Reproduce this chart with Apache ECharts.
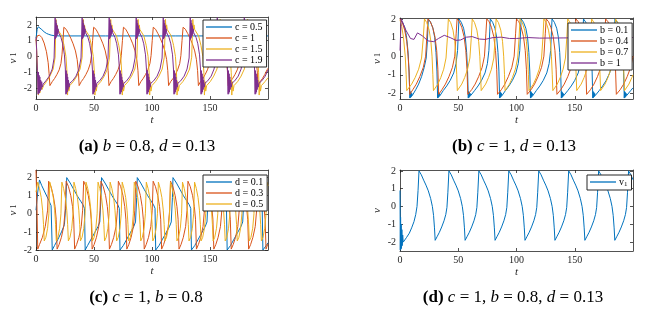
<!DOCTYPE html>
<html><head><meta charset="utf-8">
<script src="https://cdn.jsdelivr.net/npm/echarts@6/dist/echarts.min.js"></script>
<style>html,body{margin:0;padding:0;background:#fff}#c{width:645px;height:313px}</style>
</head><body><div id="c"></div>
<script>
// ---------- tick labels ----------
const xTicks = [0, 50, 100, 150];
const yTicks = [-2, -1, 0, 1, 2];

// ---------- panel (a): b = 0.8, d = 0.13 ----------
const a_names = ['c = 0.5', 'c = 1', 'c = 1.5', 'c = 1.9'];
const a_c05 = [[0,1.15],[1,1.72],[2,1.88],[3.5,1.82],[5,1.7],[7,1.56],[9,1.46],[11,1.4],[13,1.35],[16,1.31],[20,1.3],[60,1.3],[120,1.3],[200,1.3]];
const a_c1 = [[0,1.0],[1,1.3],[3,1.35],[5,1.2],[7,0.85],[9,0.3],[10.5,-0.4],[11.3,-1.1],[12,-1.85],[14,-1.6],[16,-1.4],[18,-1.15],[20,-0.85],[21.5,-0.45],[22.4,0.1],[23.3,1.0],
[24,1.85],[26,1.72],[28,1.45],[30,1.15],[32,0.8],[34,0.35],[35.5,-0.2],[36.5,-0.9],[37.2,-1.85],[39,-1.6],[41,-1.4],[43,-1.15],[45,-0.85],[46.8,-0.45],[47.8,0.05],[48.8,1.0],
[49.7,1.85],[51.7,1.72],[53.7,1.45],[55.7,1.15],[57.7,0.8],[59.7,0.35],[61.2,-0.2],[62.2,-0.9],[62.9,-1.85],[64.7,-1.6],[66.7,-1.4],[68.7,-1.15],[70.7,-0.85],[72.5,-0.45],[73.5,0.05],[74.5,1.0],
[75.4,1.85],[77.4,1.72],[79.4,1.45],[81.4,1.15],[83.4,0.8],[85.4,0.35],[86.9,-0.2],[87.9,-0.9],[88.6,-1.85],[90.4,-1.6],[92.4,-1.4],[94.4,-1.15],[96.4,-0.85],[98.2,-0.45],[99.2,0.05],[100.2,1.0],
[101.1,1.85],[103.1,1.72],[105.1,1.45],[107.1,1.15],[109.1,0.8],[111.1,0.35],[112.6,-0.2],[113.6,-0.9],[114.3,-1.85],[116.1,-1.6],[118.1,-1.4],[120.1,-1.15],[122.1,-0.85],[123.9,-0.45],[124.9,0.05],[125.9,1.0],
[126.8,1.85],[128.8,1.72],[130.8,1.45],[132.8,1.15],[134.8,0.8],[136.8,0.35],[138.3,-0.2],[139.3,-0.9],[140,-1.85],[141.8,-1.6],[143.8,-1.4],[145.8,-1.15],[147.8,-0.85],[149.6,-0.45],[150.6,0.05],[151.6,1.0],
[152.5,1.85],[154.5,1.72],[156.5,1.45],[158.5,1.15],[160.5,0.8],[162.5,0.35],[164,-0.2],[165,-0.9],[165.7,-1.85],[167.5,-1.6],[169.5,-1.4],[171.5,-1.15],[173.5,-0.85],[175.3,-0.45],[176.3,0.05],[177.3,1.0],
[178.2,1.85],[180.2,1.72],[182.2,1.45],[184.2,1.15],[186.2,0.8],[188.2,0.35],[189.7,-0.2],[190.7,-0.9],[191.4,-1.85],[193.2,-1.6],[195.2,-1.4],[197.2,-1.15],[199.2,-0.85],[200,-0.75]];
const a_c15 = [[0,1.1],[0.7,0.2],[1.4,-1.0],[2.1,-2.45],[2.7,-1.6],[3.4,-2.3],[4.2,-1.8],[5.2,-2.1],[6.5,-1.85],[9,-1.6],[12,-1.25],[14.8,-0.8],[16.5,-0.05],
[17.2,2.35],[17.7,1.6],[18.2,2.0],[18.8,1.7],[19.7,1.65],[22.2,1.3],[24.2,0.7],[25.8,0],[26.7,-1.0],[27.2,-2.45],[27.7,-1.6],[28.3,-2.2],[29.1,-1.85],[32.2,-1.6],[35.2,-1.25],[38,-0.8],[39.8,-0.05],
[40.8,2.35],[41.3,1.6],[41.8,2.0],[42.4,1.7],[43.3,1.65],[45.8,1.3],[47.8,0.7],[49.4,0],[50.3,-1.0],[50.8,-2.45],[51.3,-1.6],[51.9,-2.2],[52.7,-1.85],[55.8,-1.6],[58.8,-1.25],[61.6,-0.8],[63.4,-0.05],
[64.4,2.35],[64.9,1.6],[65.4,2.0],[66,1.7],[66.9,1.65],[69.4,1.3],[71.4,0.7],[73,0],[73.9,-1.0],[74.4,-2.45],[74.9,-1.6],[75.5,-2.2],[76.3,-1.85],[79.4,-1.6],[82.4,-1.25],[85.2,-0.8],[87,-0.05],
[88,2.35],[88.5,1.6],[89,2.0],[89.6,1.7],[90.5,1.65],[93,1.3],[95,0.7],[96.6,0],[97.5,-1.0],[98,-2.45],[98.5,-1.6],[99.1,-2.2],[99.9,-1.85],[103,-1.6],[106,-1.25],[108.8,-0.8],[110.6,-0.05],
[111.6,2.35],[112.1,1.6],[112.6,2.0],[113.2,1.7],[114.1,1.65],[116.6,1.3],[118.6,0.7],[120.2,0],[121.1,-1.0],[121.6,-2.45],[122.1,-1.6],[122.7,-2.2],[123.5,-1.85],[126.6,-1.6],[129.6,-1.25],[132.4,-0.8],[134.2,-0.05],
[135.2,2.35],[135.7,1.6],[136.2,2.0],[136.8,1.7],[137.7,1.65],[140.2,1.3],[142.2,0.7],[143.8,0],[144.7,-1.0],[145.2,-2.45],[145.7,-1.6],[146.3,-2.2],[147.1,-1.85],[150.2,-1.6],[153.2,-1.25],[156,-0.8],[157.8,-0.05],
[158.8,2.35],[159.3,1.6],[159.8,2.0],[160.4,1.7],[161.3,1.65],[163.8,1.3],[165.8,0.7],[167.4,0],[168.3,-1.0],[168.8,-2.45],[169.3,-1.6],[169.9,-2.2],[170.7,-1.85],[173.8,-1.6],[176.8,-1.25],[179.6,-0.8],[181.4,-0.05],
[182.4,2.35],[182.9,1.6],[183.4,2.0],[184,1.7],[184.9,1.65],[187.4,1.3],[189.4,0.7],[191,0],[191.9,-1.0],[192.4,-2.45],[192.9,-1.6],[193.5,-2.2],[194.3,-1.85],[197.4,-1.6],[200,-1.35]];
const a_c19 = [[0,1.2],[0.6,0.4],[1.2,-0.9],[1.8,-2.4],[2.1,-1.0],[2.4,-2.35],[2.7,-1.2],[3,-2.3],[3.3,-1.3],[3.6,-2.2],[4,-1.5],[4.4,-2.1],[4.9,-1.6],[5.5,-1.95],[6.2,-1.75],[8.5,-1.55],[11.5,-1.25],[14,-0.8],[15.6,-0.1],
[16.5,2.45],[16.8,1.1],[17.1,2.3],[17.4,1.2],[17.7,2.1],[18,1.3],[18.3,1.95],[18.6,1.4],[19,1.75],[19.5,1.5],[21.5,1.2],[23,0.8],[24.5,0.1],[25.3,-0.8],[25.8,-2.4],[26.1,-0.9],[26.4,-2.35],[26.7,-1.1],[27,-2.25],[27.3,-1.3],[27.6,-2.1],[28,-1.5],[28.5,-1.95],[29.1,-1.7],[31.5,-1.55],[34.5,-1.25],[37,-0.8],[38.8,-0.1],
[39.8,2.45],[40.1,1.1],[40.4,2.3],[40.7,1.2],[41,2.1],[41.3,1.3],[41.6,1.95],[41.9,1.4],[42.3,1.75],[42.8,1.5],[44.8,1.2],[46.3,0.8],[47.8,0.1],[48.6,-0.8],[49.1,-2.4],[49.4,-0.9],[49.7,-2.35],[50,-1.1],[50.3,-2.25],[50.6,-1.3],[50.9,-2.1],[51.3,-1.5],[51.8,-1.95],[52.4,-1.7],[54.8,-1.55],[57.8,-1.25],[60.3,-0.8],[62.1,-0.1],
[63.1,2.45],[63.4,1.1],[63.7,2.3],[64,1.2],[64.3,2.1],[64.6,1.3],[64.9,1.95],[65.2,1.4],[65.6,1.75],[66.1,1.5],[68.1,1.2],[69.6,0.8],[71.1,0.1],[71.9,-0.8],[72.4,-2.4],[72.7,-0.9],[73,-2.35],[73.3,-1.1],[73.6,-2.25],[73.9,-1.3],[74.2,-2.1],[74.6,-1.5],[75.1,-1.95],[75.7,-1.7],[78.1,-1.55],[81.1,-1.25],[83.6,-0.8],[85.4,-0.1],
[86.4,2.45],[86.7,1.1],[87,2.3],[87.3,1.2],[87.6,2.1],[87.9,1.3],[88.2,1.95],[88.5,1.4],[88.9,1.75],[89.4,1.5],[91.4,1.2],[92.9,0.8],[94.4,0.1],[95.2,-0.8],[95.7,-2.4],[96,-0.9],[96.3,-2.35],[96.6,-1.1],[96.9,-2.25],[97.2,-1.3],[97.5,-2.1],[97.9,-1.5],[98.4,-1.95],[99,-1.7],[101.4,-1.55],[104.4,-1.25],[106.9,-0.8],[108.7,-0.1],
[109.7,2.45],[110,1.1],[110.3,2.3],[110.6,1.2],[110.9,2.1],[111.2,1.3],[111.5,1.95],[111.8,1.4],[112.2,1.75],[112.7,1.5],[114.7,1.2],[116.2,0.8],[117.7,0.1],[118.5,-0.8],[119,-2.4],[119.3,-0.9],[119.6,-2.35],[119.9,-1.1],[120.2,-2.25],[120.5,-1.3],[120.8,-2.1],[121.2,-1.5],[121.7,-1.95],[122.3,-1.7],[124.7,-1.55],[127.7,-1.25],[130.2,-0.8],[132,-0.1],
[133,2.45],[133.3,1.1],[133.6,2.3],[133.9,1.2],[134.2,2.1],[134.5,1.3],[134.8,1.95],[135.1,1.4],[135.5,1.75],[136,1.5],[138,1.2],[139.5,0.8],[141,0.1],[141.8,-0.8],[142.3,-2.4],[142.6,-0.9],[142.9,-2.35],[143.2,-1.1],[143.5,-2.25],[143.8,-1.3],[144.1,-2.1],[144.5,-1.5],[145,-1.95],[145.6,-1.7],[148,-1.55],[151,-1.25],[153.5,-0.8],[155.3,-0.1],
[156.3,2.45],[156.6,1.1],[156.9,2.3],[157.2,1.2],[157.5,2.1],[157.8,1.3],[158.1,1.95],[158.4,1.4],[158.8,1.75],[159.3,1.5],[161.3,1.2],[162.8,0.8],[164.3,0.1],[165.1,-0.8],[165.6,-2.4],[165.9,-0.9],[166.2,-2.35],[166.5,-1.1],[166.8,-2.25],[167.1,-1.3],[167.4,-2.1],[167.8,-1.5],[168.3,-1.95],[168.9,-1.7],[171.3,-1.55],[174.3,-1.25],[176.8,-0.8],[178.6,-0.1],
[179.6,2.45],[179.9,1.1],[180.2,2.3],[180.5,1.2],[180.8,2.1],[181.1,1.3],[181.4,1.95],[181.7,1.4],[182.1,1.75],[182.6,1.5],[184.6,1.2],[186.1,0.8],[187.6,0.1],[188.4,-0.8],[188.9,-2.4],[189.2,-0.9],[189.5,-2.35],[189.8,-1.1],[190.1,-2.25],[190.4,-1.3],[190.7,-2.1],[191.1,-1.5],[191.6,-1.95],[192.2,-1.7],[194.6,-1.55],[197.6,-1.25],[200,-0.85]];

// ---------- panel (b): c = 1, d = 0.13 ----------
const b_names = ['b = 0.1', 'b = 0.4', 'b = 0.7', 'b = 1'];
const b_b01 = [[0,1.95],[2,1.85],[4,1.55],[5.5,1.1],[6.8,0.3],[7.8,-0.8],[8.5,-2.25],[8.8,-1.9],[9.1,-2.22],[9.4,-1.95],[9.7,-2.18],[10.1,-2.0],[10.5,-2.12],[11,-2.02],[13.5,-1.8],[16,-1.5],[18.5,-1.1],[20.8,-0.6],[22.5,-0.1],[23.5,0.8],
[24.3,2.0],[26.3,1.82],[28.3,1.5],[29.8,1.0],[30.9,0.2],[31.7,-0.8],[32.3,-2.25],[32.6,-1.9],[32.9,-2.22],[33.2,-1.95],[33.5,-2.18],[33.9,-2.0],[34.3,-2.12],[34.8,-2.02],[37.1,-1.85],[40.1,-1.6],[43.1,-1.3],[46.1,-0.9],[48.1,-0.4],[49.4,0.3],[50.1,1.3],
[50.6,2.0],[52.6,1.82],[54.6,1.5],[56.1,1.0],[57.2,0.2],[58,-0.8],[58.6,-2.25],[58.9,-1.9],[59.2,-2.22],[59.5,-1.95],[59.8,-2.18],[60.2,-2.0],[60.6,-2.12],[61.1,-2.02],[64,-1.85],[67,-1.6],[70,-1.3],[73,-0.9],[75,-0.4],[76.3,0.3],[77,1.3],
[77.5,2.0],[79.5,1.82],[81.5,1.5],[83,1.0],[84.1,0.2],[84.9,-0.8],[85.5,-2.25],[85.8,-1.9],[86.1,-2.22],[86.4,-1.95],[86.7,-2.18],[87.1,-2.0],[87.5,-2.12],[88,-2.02],[90.5,-1.85],[93.5,-1.6],[96.5,-1.3],[99.5,-0.9],[101.5,-0.4],[102.8,0.3],[103.5,1.3],
[104,2.0],[106,1.82],[108,1.5],[109.5,1.0],[110.6,0.2],[111.4,-0.8],[112,-2.25],[112.3,-1.9],[112.6,-2.22],[112.9,-1.95],[113.2,-2.18],[113.6,-2.0],[114,-2.12],[114.5,-2.02],[117,-1.85],[120,-1.6],[123,-1.3],[126,-0.9],[128,-0.4],[129.3,0.3],[130,1.3],
[130.5,2.0],[132.5,1.82],[134.5,1.5],[136,1.0],[137.1,0.2],[137.9,-0.8],[138.5,-2.25],[138.8,-1.9],[139.1,-2.22],[139.4,-1.95],[139.7,-2.18],[140.1,-2.0],[140.5,-2.12],[141,-2.02],[144,-1.85],[147,-1.6],[150,-1.3],[153,-0.9],[155,-0.4],[156.3,0.3],[157,1.3],
[157.5,2.0],[159.5,1.82],[161.5,1.5],[163,1.0],[164.1,0.2],[164.9,-0.8],[165.5,-2.25],[165.8,-1.9],[166.1,-2.22],[166.4,-1.95],[166.7,-2.18],[167.1,-2.0],[167.5,-2.12],[168,-2.02],[171,-1.85],[174,-1.6],[177,-1.3],[180,-0.9],[182,-0.4],[183.3,0.3],[184,1.3],
[184.5,2.0],[186.5,1.82],[188.5,1.5],[190,1.0],[191.1,0.2],[191.9,-0.8],[192.5,-2.25],[192.8,-1.9],[193.1,-2.22],[193.4,-1.95],[193.7,-2.18],[194.1,-2.0],[194.5,-2.12],[195,-2.02],[198,-1.85],[200,-1.7]];
const b_b04 = [[0,2.0],[2,1.8],[4,1.4],[5.8,0.8],[7,0],[7.8,-0.9],[8.4,-2.05],[9,-1.95],[11,-1.8],[14,-1.5],[17,-1.1],[20,-0.6],[22,0],[23.2,1.2],
[24,2.0],[26,1.85],[28,1.55],[30,1.05],[31.5,0.3],[32.5,-0.7],[33.2,-2.05],[33.8,-1.95],[36,-1.8],[39,-1.5],[42,-1.1],[45,-0.6],[47,0],[48.2,1.2],
[49,2.0],[51,1.85],[53,1.55],[55,1.05],[56.5,0.3],[57.5,-0.7],[58.2,-2.05],[58.8,-1.95],[61.5,-1.8],[64.5,-1.5],[67.5,-1.1],[70.5,-0.6],[72.5,0],[73.7,1.2],
[74.5,2.0],[76.5,1.85],[78.5,1.55],[80.5,1.05],[82,0.3],[83,-0.7],[83.7,-2.05],[84.3,-1.95],[87,-1.8],[90,-1.5],[93,-1.1],[96,-0.6],[98,0],[99.2,1.2],
[100,2.0],[102,1.85],[104,1.55],[106,1.05],[107.5,0.3],[108.5,-0.7],[109.2,-2.05],[109.8,-1.95],[112.5,-1.8],[115.5,-1.5],[118.5,-1.1],[121.5,-0.6],[123.5,0],[124.7,1.2],
[125.5,2.0],[127.5,1.85],[129.5,1.55],[131.5,1.05],[133,0.3],[134,-0.7],[134.7,-2.05],[135.3,-1.95],[138,-1.8],[141,-1.5],[144,-1.1],[147,-0.6],[149,0],[150.2,1.2],
[151,2.0],[153,1.85],[155,1.55],[157,1.05],[158.5,0.3],[159.5,-0.7],[160.2,-2.05],[160.8,-1.95],[163.5,-1.8],[166.5,-1.5],[169.5,-1.1],[172.5,-0.6],[174.5,0],[175.7,1.2],
[176.5,2.0],[178.5,1.85],[180.5,1.55],[182.5,1.05],[184,0.3],[185,-0.7],[185.7,-2.05],[186.3,-1.95],[189,-1.8],[192,-1.5],[195,-1.1],[198,-0.6],[200,0]];
const b_b07 = [[0,1.95],[1.5,1.6],[3,1.0],[4.5,0],[5.3,-1.0],[5.8,-1.85],[7,-1.75],[10,-1.5],[13,-1.15],[16,-0.7],[18.5,-0.1],[20,1.0],
[21,2.0],[23,1.8],[25,1.4],[26.5,0.8],[27.5,0],[28.2,-1.0],[28.7,-1.85],[30,-1.75],[32.5,-1.5],[35,-1.15],[37.5,-0.7],[39.5,-0.1],[40.7,1.0],
[41.5,2.0],[43.5,1.8],[45.5,1.4],[47,0.8],[48,0],[48.7,-1.0],[49.2,-1.85],[50.5,-1.75],[53,-1.5],[55.5,-1.15],[58,-0.7],[60,-0.1],[61.2,1.0],
[62,2.0],[64,1.8],[66,1.4],[67.5,0.8],[68.5,0],[69.2,-1.0],[69.7,-1.85],[71,-1.75],[73.5,-1.5],[76,-1.15],[78.5,-0.7],[80.5,-0.1],[81.7,1.0],
[82.5,2.0],[84.5,1.8],[86.5,1.4],[88,0.8],[89,0],[89.7,-1.0],[90.2,-1.85],[91.5,-1.75],[94,-1.5],[96.5,-1.15],[99,-0.7],[101,-0.1],[102.2,1.0],
[103,2.0],[105,1.8],[107,1.4],[108.5,0.8],[109.5,0],[110.2,-1.0],[110.7,-1.85],[112,-1.75],[114.5,-1.5],[117,-1.15],[119.5,-0.7],[121.5,-0.1],[122.7,1.0],
[123.5,2.0],[125.5,1.8],[127.5,1.4],[129,0.8],[130,0],[130.7,-1.0],[131.2,-1.85],[132.5,-1.75],[135,-1.5],[137.5,-1.15],[140,-0.7],[142,-0.1],[143.2,1.0],
[144,2.0],[146,1.8],[148,1.4],[149.5,0.8],[150.5,0],[151.2,-1.0],[151.7,-1.85],[153,-1.75],[155.5,-1.5],[158,-1.15],[160.5,-0.7],[162.5,-0.1],[163.7,1.0],
[164.5,2.0],[166.5,1.8],[168.5,1.4],[170,0.8],[171,0],[171.7,-1.0],[172.2,-1.85],[173.5,-1.75],[176,-1.5],[178.5,-1.15],[181,-0.7],[183,-0.1],[184.2,1.0],
[185,2.0],[187,1.8],[189,1.4],[190.5,0.8],[191.5,0],[192.2,-1.0],[192.7,-1.85],[194,-1.75],[196.5,-1.5],[199,-1.15],[200,-1.0]];
const b_b1 = [[0,0.3],[1,2.0],[2,1.9],[5,1.4],[9,0.95],[12,0.9],[15,1.25],[19,1.1],[24,0.82],[29,0.78],[33,0.95],[38,1.12],[43,1.0],[48,0.85],[52,0.87],[57,1.02],[62,1.05],[68,0.92],[73,0.9],[80,1.0],[87,1.02],[94,0.95],[100,0.95],[110,1.0],[120,0.97],[140,0.98],[160,0.99],[200,1.0]];

// ---------- panel (c): c = 1, b = 0.8 ----------
const c_names = ['d = 0.1', 'd = 0.3', 'd = 0.5'];
const c_d01 = [[0,0.2],[1.5,1.2],[3,1.87],[5,1.55],[8,1.15],[11,0.75],[13,0.45],[14,-2.0],[16,-1.75],[19,-1.4],[22,-1.0],[24.5,-0.6],[25.5,0.3],
[26.5,2.0],[29.5,1.7],[32.5,1.35],[35.5,1.0],[38.5,0.7],[40.5,0.5],[41.8,0.3],[42.4,-2.0],[44.5,-1.75],[47.5,-1.4],[50.5,-1.05],[53.5,-0.7],[55,-0.45],[56,0.9],
[56.5,2.0],[59.5,1.7],[62.5,1.35],[65.5,1.0],[68.5,0.7],[70.5,0.5],[71.8,0.3],[72.4,-2.0],[75.3,-1.75],[78.3,-1.4],[81.3,-1.05],[84.3,-0.7],[85.8,-0.45],[86.8,0.9],
[87.3,2.0],[90.3,1.7],[93.3,1.35],[96.3,1.0],[99.3,0.7],[101.3,0.5],[102.6,0.3],[103.2,-2.0],[106.1,-1.75],[109.1,-1.4],[112.1,-1.05],[115.1,-0.7],[116.6,-0.45],[117.6,0.9],
[118.1,2.0],[121.1,1.7],[124.1,1.35],[127.1,1.0],[130.1,0.7],[132.1,0.5],[133.4,0.3],[134,-2.0],[136.9,-1.75],[139.9,-1.4],[142.9,-1.05],[145.9,-0.7],[147.4,-0.45],[148.4,0.9],
[148.9,2.0],[151.9,1.7],[154.9,1.35],[157.9,1.0],[160.9,0.7],[162.9,0.5],[164.2,0.3],[164.8,-2.0],[167.7,-1.75],[170.7,-1.4],[173.7,-1.05],[176.7,-0.7],[178.2,-0.45],[179.2,0.9],
[179.7,2.0],[182.7,1.7],[185.7,1.35],[188.7,1.0],[191.7,0.7],[193.7,0.5],[195,0.3],[195.6,-2.0],[198.5,-1.75],[200,-1.6]];
const c_d03 = [[0,2.4],[0.8,0.5],[1.5,-1.95],[3,-1.7],[5.5,-1.3],[8,-0.7],[10,0.2],
[10.9,1.8],[12.9,1.5],[14.9,1.0],[16.4,0.4],[17.4,-0.3],[18.2,-1.95],[19.9,-1.7],[21.9,-1.3],[23.9,-0.7],[25.1,0.2],
[26,1.8],[28,1.5],[30,1.0],[31.5,0.4],[32.5,-0.3],[33.3,-1.95],[35,-1.7],[37,-1.3],[39,-0.7],[40.2,0.2],
[41.1,1.8],[43.1,1.5],[45.1,1.0],[46.6,0.4],[47.6,-0.3],[48.4,-1.95],[50.1,-1.7],[52.1,-1.3],[54.1,-0.7],[55.2,0.2],
[56,1.8],[58,1.5],[60,1.0],[61.5,0.4],[62.5,-0.3],[63.3,-1.95],[65,-1.7],[67,-1.3],[69,-0.7],[70.2,0.2],
[71,1.8],[73,1.5],[75,1.0],[76.5,0.4],[77.5,-0.3],[78.3,-1.95],[80,-1.7],[82,-1.3],[84,-0.7],[85.2,0.2],
[86,1.8],[88,1.5],[90,1.0],[91.5,0.4],[92.5,-0.3],[93.3,-1.95],[95,-1.7],[97,-1.3],[99,-0.7],[100.2,0.2],
[101,1.8],[103,1.5],[105,1.0],[106.5,0.4],[107.5,-0.3],[108.3,-1.95],[110,-1.7],[112,-1.3],[114,-0.7],[115.2,0.2],
[116,1.8],[118,1.5],[120,1.0],[121.5,0.4],[122.5,-0.3],[123.3,-1.95],[125,-1.7],[127,-1.3],[129,-0.7],[130.2,0.2],
[131,1.8],[133,1.5],[135,1.0],[136.5,0.4],[137.5,-0.3],[138.3,-1.95],[140,-1.7],[142,-1.3],[144,-0.7],[145.2,0.2],
[146,1.8],[148,1.5],[150,1.0],[151.5,0.4],[152.5,-0.3],[153.3,-1.95],[155,-1.7],[157,-1.3],[159,-0.7],[160.2,0.2],
[161,1.8],[163,1.5],[165,1.0],[166.5,0.4],[167.5,-0.3],[168.3,-1.95],[170,-1.7],[172,-1.3],[174,-0.7],[175.2,0.2],
[176,1.8],[178,1.5],[180,1.0],[181.5,0.4],[182.5,-0.3],[183.3,-1.95],[185,-1.7],[187,-1.3],[189,-0.7],[190.2,0.2],
[191,1.8],[193,1.5],[195,1.0],[196.5,0.4],[197.5,-0.3],[198.3,-1.95],[200,-1.65]];
const c_d05 = [[0,1.2],
[1.5,1.75],[3,1.4],[4.5,0.9],[5.7,0.2],[6.5,-0.6],[7.1,-1.5],[8.5,-1.3],[10,-0.8],[11.1,0],
[11.9,1.75],[13.4,1.4],[14.9,0.9],[16.1,0.2],[16.9,-0.6],[17.5,-1.5],[18.9,-1.3],[20.4,-0.8],[21.5,0],
[22.3,1.75],[23.8,1.4],[25.3,0.9],[26.5,0.2],[27.3,-0.6],[27.9,-1.5],[29.3,-1.3],[30.8,-0.8],[31.9,0],
[32.7,1.75],[34.2,1.4],[35.7,0.9],[36.9,0.2],[37.7,-0.6],[38.3,-1.5],[39.7,-1.3],[41.2,-0.8],[42.3,0],
[43.1,1.75],[44.6,1.4],[46.1,0.9],[47.3,0.2],[48.1,-0.6],[48.7,-1.5],[50.1,-1.3],[51.6,-0.8],[52.7,0],
[53.5,1.75],[55,1.4],[56.5,0.9],[57.7,0.2],[58.5,-0.6],[59.1,-1.5],[60.5,-1.3],[62,-0.8],[63.1,0],
[63.9,1.75],[65.4,1.4],[66.9,0.9],[68.1,0.2],[68.9,-0.6],[69.5,-1.5],[70.9,-1.3],[72.4,-0.8],[73.5,0],
[74.3,1.75],[75.8,1.4],[77.3,0.9],[78.5,0.2],[79.3,-0.6],[79.9,-1.5],[81.3,-1.3],[82.8,-0.8],[83.9,0],
[84.7,1.75],[86.2,1.4],[87.7,0.9],[88.9,0.2],[89.7,-0.6],[90.3,-1.5],[91.7,-1.3],[93.2,-0.8],[94.3,0],
[95.1,1.75],[96.6,1.4],[98.1,0.9],[99.3,0.2],[100.1,-0.6],[100.7,-1.5],[102.1,-1.3],[103.6,-0.8],[104.7,0],
[105.5,1.75],[107,1.4],[108.5,0.9],[109.7,0.2],[110.5,-0.6],[111.1,-1.5],[112.5,-1.3],[114,-0.8],[115.1,0],
[115.9,1.75],[117.4,1.4],[118.9,0.9],[120.1,0.2],[120.9,-0.6],[121.5,-1.5],[122.9,-1.3],[124.4,-0.8],[125.5,0],
[126.3,1.75],[127.8,1.4],[129.3,0.9],[130.5,0.2],[131.3,-0.6],[131.9,-1.5],[133.3,-1.3],[134.8,-0.8],[135.9,0],
[136.7,1.75],[138.2,1.4],[139.7,0.9],[140.9,0.2],[141.7,-0.6],[142.3,-1.5],[143.7,-1.3],[145.2,-0.8],[146.3,0],
[147.1,1.75],[148.6,1.4],[150.1,0.9],[151.3,0.2],[152.1,-0.6],[152.7,-1.5],[154.1,-1.3],[155.6,-0.8],[156.7,0],
[157.5,1.75],[159,1.4],[160.5,0.9],[161.7,0.2],[162.5,-0.6],[163.1,-1.5],[164.5,-1.3],[166,-0.8],[167.1,0],
[167.9,1.75],[169.4,1.4],[170.9,0.9],[172.1,0.2],[172.9,-0.6],[173.5,-1.5],[174.9,-1.3],[176.4,-0.8],[177.5,0],
[178.3,1.75],[179.8,1.4],[181.3,0.9],[182.5,0.2],[183.3,-0.6],[183.9,-1.5],[185.3,-1.3],[186.8,-0.8],[187.9,0],
[188.7,1.75],[190.2,1.4],[191.7,0.9],[192.9,0.2],[193.7,-0.6],[194.3,-1.5],[195.7,-1.3],[197.2,-0.8],[198.3,0],
[199.1,1.75],[200,1.55]];

// ---------- panel (d): c = 1, b = 0.8, d = 0.13 ----------
const d_names = ['v1'];
const d_v1 = [[0,0.9],[0.25,-2.45],[0.5,-0.6],[0.75,-2.4],[1,-1.0],[1.3,-2.35],[1.6,-1.3],[1.9,-2.2],[2.3,-1.6],[2.8,-2.0],[3.5,-1.9],[5.5,-1.75],[8,-1.5],[10,-1.2],[12,-0.85],[13.5,-0.45],[14.6,0],[15.5,0.9],
[16.3,2.0],[18.3,1.78],[20.3,1.48],[22.3,1.2],[24.3,0.88],[26.3,0.45],[27.8,0],[28.8,-0.5],[29.6,-1.2],[30.2,-1.9],[31.8,-1.7],[33.8,-1.45],[35.8,-1.15],[37.8,-0.8],[39.3,-0.45],[40.3,-0.05],[41.1,0.8],
[42,2.0],[44,1.78],[46,1.48],[48,1.2],[50,0.88],[52,0.45],[53.5,0],[54.5,-0.5],[55.3,-1.2],[55.9,-1.9],[57.5,-1.7],[59.5,-1.45],[61.5,-1.15],[63.5,-0.8],[65,-0.45],[66,-0.05],[66.8,0.8],
[67.7,2.0],[69.7,1.78],[71.7,1.48],[73.7,1.2],[75.7,0.88],[77.7,0.45],[79.2,0],[80.2,-0.5],[81,-1.2],[81.6,-1.9],[83.2,-1.7],[85.2,-1.45],[87.2,-1.15],[89.2,-0.8],[90.7,-0.45],[91.7,-0.05],[92.5,0.8],
[93.4,2.0],[95.4,1.78],[97.4,1.48],[99.4,1.2],[101.4,0.88],[103.4,0.45],[104.9,0],[105.9,-0.5],[106.7,-1.2],[107.3,-1.9],[108.9,-1.7],[110.9,-1.45],[112.9,-1.15],[114.9,-0.8],[116.4,-0.45],[117.4,-0.05],[118.2,0.8],
[119.1,2.0],[121.1,1.78],[123.1,1.48],[125.1,1.2],[127.1,0.88],[129.1,0.45],[130.6,0],[131.6,-0.5],[132.4,-1.2],[133,-1.9],[134.6,-1.7],[136.6,-1.45],[138.6,-1.15],[140.6,-0.8],[142.1,-0.45],[143.1,-0.05],[143.9,0.8],
[144.8,2.0],[146.8,1.78],[148.8,1.48],[150.8,1.2],[152.8,0.88],[154.8,0.45],[156.3,0],[157.3,-0.5],[158.1,-1.2],[158.7,-1.9],[160.3,-1.7],[162.3,-1.45],[164.3,-1.15],[166.3,-0.8],[167.8,-0.45],[168.8,-0.05],[169.6,0.8],
[170.5,2.0],[172.5,1.78],[174.5,1.48],[176.5,1.2],[178.5,0.88],[180.5,0.45],[182,0],[183,-0.5],[183.8,-1.2],[184.4,-1.9],[186,-1.7],[188,-1.45],[190,-1.15],[192,-0.8],[193.5,-0.45],[194.5,-0.05],[195.3,0.8],
[196.2,2.0],[198.2,1.78],[200,1.5]];

// ---------- styling / layout ----------
const FONT = 'Liberation Serif';
const AX = '#262626';
const COLORS = ['#0072BD', '#D95319', '#EDB120', '#7E2F8E'];
const grids = [
  {left: 36, top: 17, width: 232, height: 82},
  {left: 400, top: 18, width: 233, height: 81},
  {left: 36, top: 170, width: 232, height: 80},
  {left: 400, top: 170, width: 233, height: 81}
];
const yRanges = [[-2.7, 2.5], [-2.3, 2.05], [-2, 2.42], [-2.5, 2.05]];
const yNames = ['{i|v}{s| 1}', '{i|v}{s| 1}', '{i|v}{s| 1}', '{i|v}'];

const xAxis = [], yAxis = [];
const lineAx = {show: true, onZero: false, lineStyle: {color: AX, width: 0.8}};
const tickSt = {color: AX, width: 0.8};
const nameRich = {
  i: {fontFamily: FONT, fontStyle: 'italic', fontSize: 11, color: AX},
  s: {fontFamily: FONT, fontSize: 8, color: AX}
};
grids.forEach((g, i) => {
  xAxis.push({gridIndex: i, type: 'value', min: 0, max: 200, position: 'bottom',
    axisLine: lineAx, splitLine: {show: false},
    axisTick: {show: true, inside: true, length: 3, customValues: xTicks, lineStyle: tickSt},
    axisLabel: {customValues: xTicks, color: AX, fontFamily: FONT, fontSize: 10, margin: 4},
    name: 't', nameLocation: 'middle', nameGap: 16,
    nameTextStyle: {fontFamily: FONT, fontStyle: 'italic', fontSize: 11, color: AX}});
  xAxis.push({gridIndex: i, type: 'value', min: 0, max: 200, position: 'top',
    axisLine: lineAx, splitLine: {show: false},
    axisTick: {show: true, inside: true, length: 3, customValues: xTicks, lineStyle: tickSt},
    axisLabel: {show: false}});
  yAxis.push({gridIndex: i, type: 'value', min: yRanges[i][0], max: yRanges[i][1], position: 'left',
    axisLine: lineAx, splitLine: {show: false},
    axisTick: {show: true, inside: true, length: 3, customValues: yTicks, lineStyle: tickSt},
    axisLabel: {customValues: yTicks, color: AX, fontFamily: FONT, fontSize: 10, margin: 4},
    name: yNames[i], nameLocation: 'middle', nameRotate: 90, nameGap: 17,
    nameTextStyle: {rich: nameRich}});
  yAxis.push({gridIndex: i, type: 'value', min: yRanges[i][0], max: yRanges[i][1], position: 'right',
    axisLine: lineAx, splitLine: {show: false},
    axisTick: {show: true, inside: true, length: 3, customValues: yTicks, lineStyle: tickSt},
    axisLabel: {show: false}});
});

const series = [];
function add(panel, name, data, color) {
  series.push({type: 'line', name: name, data: data, xAxisIndex: panel * 2, yAxisIndex: panel * 2,
    symbol: 'none', showSymbol: false, lineStyle: {width: 1, color: color}, itemStyle: {color: color},
    animation: false, silent: true});
}
add(0, a_names[0], a_c05, COLORS[0]);
add(0, a_names[1], a_c1, COLORS[1]);
add(0, a_names[2], a_c15, COLORS[2]);
add(0, a_names[3], a_c19, COLORS[3]);
add(1, b_names[0], b_b01, COLORS[0]);
add(1, b_names[1], b_b04, COLORS[1]);
add(1, b_names[2], b_b07, COLORS[2]);
add(1, b_names[3], b_b1, COLORS[3]);
add(2, c_names[0], c_d01, COLORS[0]);
add(2, c_names[1], c_d03, COLORS[1]);
add(2, c_names[2], c_d05, COLORS[2]);
add(3, d_names[0], d_v1, COLORS[0]);

function legend(names, left, top, fmt) {
  return {data: names, orient: 'vertical', left: left, top: top, selectedMode: false,
    icon: 'rect', backgroundColor: '#fff', borderColor: AX, borderWidth: 1, borderRadius: 0,
    padding: [2, 4, 2, 3], itemGap: 1, itemWidth: 26, itemHeight: 1.3,
    textStyle: {fontFamily: FONT, fontSize: 10, lineHeight: 10, color: '#000', padding: [0, 0, 0, -2],
      rich: {i: {fontFamily: FONT, fontSize: 10, color: '#000'}, s: {fontFamily: FONT, fontSize: 7, color: '#000', padding: [5, 0, 0, 0]}}},
    formatter: fmt};
}

const capRich = {
  b: {fontFamily: FONT, fontWeight: 'bold', fontSize: 17, fill: '#000'},
  i: {fontFamily: FONT, fontStyle: 'italic', fontSize: 17, fill: '#000'},
  n: {fontFamily: FONT, fontSize: 17, fill: '#000'}
};
function caption(x, y, txt) {
  return {type: 'text', x: x, y: y, silent: true,
    style: {text: txt, rich: capRich, fontFamily: FONT, fontSize: 17, fill: '#000', align: 'center', verticalAlign: 'middle'}};
}

const chart = echarts.init(document.getElementById('c'), null, {renderer: 'canvas'});
chart.setOption({
  animation: false,
  backgroundColor: '#fff',
  grid: grids,
  xAxis: xAxis,
  yAxis: yAxis,
  legend: [
    legend(a_names, 203, 20),
    legend(b_names, 568, 23),
    legend(c_names, 203, 175),
    legend(d_names, 587, 175, n => '{i|v}{s|1}')
  ],
  series: series,
  graphic: [
    caption(147, 147, '{b|(a)}{n| }{i|b}{n| = 0.8, }{i|d}{n| = 0.13}'),
    caption(514, 147, '{b|(b)}{n| }{i|c}{n| = 1, }{i|d}{n| = 0.13}'),
    caption(146, 298, '{b|(c)}{n| }{i|c}{n| = 1, }{i|b}{n| = 0.8}'),
    caption(513, 298, '{b|(d)}{n| }{i|c}{n| = 1, }{i|b}{n| = 0.8, }{i|d}{n| = 0.13}')
  ]
});
</script>
</body></html>
